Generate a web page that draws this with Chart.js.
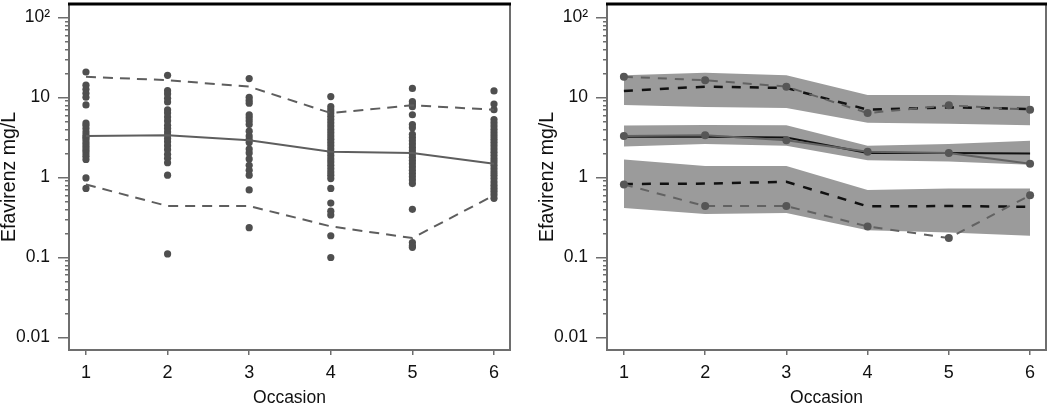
<!DOCTYPE html>
<html>
<head>
<meta charset="utf-8">
<script src="https://cdn.jsdelivr.net/npm/chart.js@4/dist/chart.umd.min.js"></script>
<style>
  html, body { margin: 0; padding: 0; background: #fff; overflow: hidden; }
  #wrap { position: relative; width: 1050px; height: 407px; }
  canvas { position: absolute; top: 0; }
</style>
</head>
<body>
<div id="wrap">
  <canvas id="obsChart" width="525" height="407" style="left:0"></canvas>
  <canvas id="vpcChart" width="512" height="407" style="left:538px"></canvas>
</div>
<script>
const occasions = [1, 2, 3, 4, 5, 6];

// observed concentrations per occasion (mg/L)
const obsOcc1 = [20.9, 14.3, 12.7, 11.3, 10.1, 8.1, 4.8, 4.5, 4.1, 3.7, 3.4, 3.2, 3.0, 2.75, 2.55, 2.36, 2.19, 2.03, 1.85, 1.68, 0.99, 0.73];
const obsOcc2 = [19.0, 12.2, 11.1, 9.8, 8.8, 7.0, 6.4, 5.7, 5.1, 4.5, 4.1, 3.7, 3.4, 3.07, 2.8, 2.5, 2.23, 1.95, 1.74, 1.53, 1.07, 0.111];
const obsOcc3 = [17.3, 10.1, 9.2, 8.5, 6.1, 5.6, 5.1, 4.6, 3.8, 3.3, 3.0, 2.75, 2.27, 2.03, 1.71, 1.42, 1.23, 1.07, 0.70, 0.236];
const obsOcc4 = [10.3, 7.7, 7.0, 6.42, 5.84, 5.31, 4.84, 4.40, 4.00, 3.64, 3.31, 3.02, 2.75, 2.50, 2.27, 2.07, 1.88, 1.71, 1.56, 1.42, 1.29, 1.17, 1.07, 0.97, 0.73, 0.48, 0.38, 0.34, 0.187, 0.10];
const obsOcc5 = [13.0, 8.9, 8.3, 7.7, 6.1, 4.6, 4.2, 3.47, 3.16, 2.88, 2.62, 2.38, 2.17, 1.97, 1.79, 1.63, 1.49, 1.35, 1.23, 1.12, 1.02, 0.93, 0.84, 0.40, 0.154, 0.14, 0.134];
const obsOcc6 = [12.1, 8.3, 7.05, 5.31, 4.84, 4.40, 4.00, 3.64, 3.31, 3.02, 2.75, 2.50, 2.27, 2.07, 1.88, 1.71, 1.56, 1.42, 1.29, 1.17, 1.07, 0.97, 0.88, 0.80, 0.73, 0.67, 0.61, 0.55];

// observed percentiles
const obsP95 = [18.2, 16.5, 13.7, 6.4, 8.0, 7.05];
const obsMedian = [3.3, 3.37, 2.93, 2.1, 2.03, 1.49];
const obsP5 = [0.82, 0.44, 0.44, 0.245, 0.175, 0.6];

// model-predicted percentiles
const predP95 = [12.1, 13.7, 13.2, 7.06, 7.55, 7.2];
const predMedian = [3.23, 3.23, 3.16, 2.03, 2.03, 2.0];
const predP5 = [0.83, 0.84, 0.885, 0.436, 0.44, 0.43];

// confidence bands around predicted percentiles
const ciP95Hi = [19, 20.4, 19, 10.8, 10.8, 10.5];
const ciP95Lo = [8.1, 7.6, 7.4, 4.84, 4.7, 4.5];
const ciMedHi = [4.49, 4.55, 4.5, 2.5, 2.62, 2.89];
const ciMedLo = [2.45, 2.62, 2.5, 1.64, 1.59, 1.45];
const ciP5Hi = [1.68, 1.39, 1.39, 0.70, 0.73, 0.73];
const ciP5Lo = [0.416, 0.35, 0.36, 0.219, 0.205, 0.187];

// axes
const yTickValues = [0.01, 0.1, 1, 10, 100];
const yTickLabels = ["0.01", "0.1", "1", "10", "10\u00B2"];
const yMinorSteps = [1, 2, 3, 4, 5, 6, 7, 8, 9];

const FONT = "'Liberation Sans', Arial, sans-serif";
const axisGray = "#6e6e6e";
const textColor = "#111";

function series(values) {
  return occasions.map((o, i) => ({ x: o, y: values[i] }));
}

const minorTicks = yTickValues.slice(0, -1)
  .flatMap(d => yMinorSteps.map(m => m * d))
  .concat([yTickValues[yTickValues.length - 1]]);

function noPad(s) {
  s.paddingTop = 0;
  s.paddingBottom = 0;
  s.paddingLeft = 0;
  s.paddingRight = 0;
}

const framePlugin = {
  id: "frame",
  afterDraw(chart) {
    const { ctx, chartArea: a } = chart;
    ctx.save();
    ctx.strokeStyle = axisGray;
    ctx.lineWidth = 2;
    ctx.beginPath();
    ctx.moveTo(a.right, a.top);
    ctx.lineTo(a.right, a.bottom + 1);
    ctx.stroke();
    ctx.strokeStyle = "#000";
    ctx.lineWidth = 3;
    ctx.beginPath();
    ctx.moveTo(a.left - 1, a.top);
    ctx.lineTo(a.right + 1, a.top);
    ctx.stroke();
    ctx.restore();
  },
};

function makeOptions(rightPad) {
  return {
    responsive: false,
    animation: false,
    layout: { padding: { top: 1, right: rightPad, left: 0, bottom: 0 } },
    plugins: { legend: { display: false }, tooltip: { enabled: false } },
    scales: {
      x: {
        type: "linear",
        min: 0.792,
        max: 6.196,
        afterBuildTicks: s => { s.ticks = occasions.map(v => ({ value: v })); },
        afterFit: s => { s.height = 57; noPad(s); },
        grid: { drawOnChartArea: false, tickLength: 5, color: axisGray, lineWidth: 1.5 },
        border: { color: axisGray, width: 2 },
        ticks: { autoSkip: false, maxRotation: 0, padding: 7, color: textColor, font: { family: FONT, size: 18 } },
        title: { display: true, text: "Occasion", color: textColor, padding: 0, font: { family: FONT, size: 17.5, lineHeight: 1 } },
      },
      y: {
        type: "logarithmic",
        axis: "y",
        position: "left",
        weight: 0,
        bounds: "data",
        min: 0.00697,
        max: 148,
        afterBuildTicks: s => { s.ticks = minorTicks.map(v => ({ value: v })); },
        afterFit: s => { s.width = 4; noPad(s); },
        grid: { drawOnChartArea: false, tickLength: 4, color: axisGray, lineWidth: 1.5 },
        border: { color: axisGray, width: 2 },
        ticks: { display: false, autoSkip: false },
      },
      yLabels: {
        type: "logarithmic",
        axis: "y",
        position: "left",
        weight: 1,
        bounds: "data",
        min: 0.00697,
        max: 148,
        afterBuildTicks: s => { s.ticks = yTickValues.map(v => ({ value: v })); },
        afterFit: s => { s.width = 65; noPad(s); },
        grid: { drawOnChartArea: false, tickLength: 7, color: axisGray, lineWidth: 1.5 },
        border: { display: false },
        ticks: {
          autoSkip: false,
          padding: 8,
          color: textColor,
          font: { family: FONT, size: 17.5 },
          callback: (v, i) => yTickLabels[i],
        },
        title: { display: true, text: "Efavirenz mg/L", color: textColor, padding: 0, font: { family: FONT, size: 19.5, lineHeight: 1 } },
      },
    },
  };
}

// left panel: observed data with observed percentiles
const obsPoints = [obsOcc1, obsOcc2, obsOcc3, obsOcc4, obsOcc5, obsOcc6]
  .flatMap((vals, i) => vals.map(v => ({ x: occasions[i], y: v })));

const lineGray = "#5e5e5e";

new Chart(document.getElementById("obsChart"), {
  type: "line",
  data: {
    datasets: [
      { data: series(obsMedian), borderColor: lineGray, borderWidth: 2, pointRadius: 0, order: 0 },
      { data: series(obsP95), borderColor: lineGray, borderWidth: 2, borderDash: [10, 7], pointRadius: 0, order: 0 },
      { data: series(obsP5), borderColor: lineGray, borderWidth: 2, borderDash: [10, 7], pointRadius: 0, order: 0 },
      {
        data: obsPoints,
        showLine: false,
        pointRadius: 3.6,
        pointBorderWidth: 0,
        pointBackgroundColor: "#4f4f4f",
        order: 1,
      },
    ],
  },
  options: makeOptions(15),
  plugins: [framePlugin],
});

// right panel: visual predictive check
const bandGray = "#9b9b9b";
const clear = "rgba(0,0,0,0)";

function band(hi, lo) {
  return [
    { data: series(hi), borderColor: clear, borderWidth: 0, pointRadius: 0, fill: false, order: 5 },
    { data: series(lo), borderColor: clear, borderWidth: 0, pointRadius: 0, fill: "-1", backgroundColor: bandGray, order: 5 },
  ];
}

function observed(values, dashed) {
  return {
    data: series(values),
    borderColor: "#626262",
    borderWidth: 2,
    borderDash: dashed ? [9, 8] : [],
    pointRadius: 4,
    pointBorderWidth: 0,
    pointBackgroundColor: "#565656",
    order: 0,
  };
}

function predicted(values, dashed) {
  return {
    data: series(values),
    borderColor: "#111",
    borderWidth: dashed ? 2.5 : 2,
    borderDash: dashed ? [9, 9] : [],
    pointRadius: 0,
    order: 1,
  };
}

new Chart(document.getElementById("vpcChart"), {
  type: "line",
  data: {
    datasets: [
      ...band(ciP95Hi, ciP95Lo),
      ...band(ciMedHi, ciMedLo),
      ...band(ciP5Hi, ciP5Lo),
      predicted(predP95, true),
      predicted(predMedian, false),
      predicted(predP5, true),
      observed(obsP95, true),
      observed(obsMedian, false),
      observed(obsP5, true),
    ],
  },
  options: makeOptions(3.3),
  plugins: [framePlugin],
});
</script>
</body>
</html>
